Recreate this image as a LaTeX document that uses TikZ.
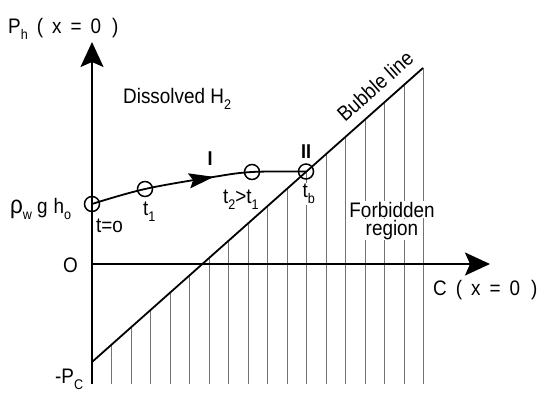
\documentclass[tikz,border=0pt]{standalone}
\usepackage{fontspec}
\setmainfont{Liberation Sans}[FakeStretch=0.9]
\usetikzlibrary{arrows.meta,decorations.markings}
\newcommand{\lsub}[1]{\raisebox{-0.33em}{\fontsize{14}{14}\selectfont #1}}
\newcommand{\gp}{\hspace{9pt}}
\begin{document}
\begin{tikzpicture}[x=1pt,y=-1pt,
  font=\fontsize{21}{24}\selectfont,
  lbl/.style={inner sep=0pt},
  axis/.style={line width=1.9pt, -{Stealth[length=25pt,width=23pt,inset=5pt]}},
  mainline/.style={line width=1.8pt},
  hatchline/.style={line width=0.5pt, black!55},
  pt/.style={draw, circle, minimum size=15pt, inner sep=0pt, line width=1.5pt}]
\useasboundingbox (0,0) rectangle (541,392);
% hatching
\foreach \k in {1,...,17} {
  \pgfmathsetmacro\xx{92+19.5*\k}
  \pgfmathsetmacro\yy{362-19.5*\k*0.8882}
  \draw[hatchline] (\xx,\yy) -- (\xx,384);
}
% labels with white background
\node[lbl, fill=white, anchor=base, inner sep=1pt] (forb) at (392,217) {Forbidden};
\node[lbl, fill=white, anchor=base, inner sep=1pt] (reg) at (392,235) {region};
\node[lbl, fill=white, anchor=base west, inner sep=0.5pt] (tb) at (302,197) {t\lsub{b}};
% axes
\coordinate (ybot) at (92,384);
\coordinate (ytop) at (92,42);
\coordinate (xorg) at (92,264);
\coordinate (xend) at (490,264);
\draw[axis] (ybot) -- (ytop);
\draw[axis] (xorg) -- (xend);
% bubble line
\coordinate (pc) at (92,362);
\coordinate (bt) at (423,68);
\draw[mainline] (pc) -- (bt);
% points
\node[pt] (c0) at (92,204) {};
\node[pt] (c1) at (145,189) {};
\coordinate (ar) at (213,177);
\node[pt] (c2) at (252,172) {};
\node[pt] (cb) at (306,171.5) {};
\draw[mainline, postaction={decorate}, decoration={markings,
   mark=at position 0.575 with {\arrow{Stealth[length=25pt,width=15pt,inset=4pt]}}}]
  plot[smooth, tension=0.6] coordinates {(c0.center) (c1.center) (ar) (c2.center) (cb.center)};
% text
\node[lbl, anchor=base west] (ph) at (8,33) {P\lsub{h}\gp(\gp x\gp=\gp 0\hspace{11pt})};
\node[lbl, anchor=base west] (diss) at (123,103) {Dissolved H\lsub{2}};
\node[lbl, anchor=base west] (rho) at (10,213) {{\fontsize{25}{25}\selectfont ρ}\lsub{w}\hspace{5pt}g\hspace{6pt}h\lsub{o}};
\node[lbl, anchor=base west] (t0) at (96,232) {t=o};
\node[lbl, anchor=base west] (t1) at (143,215) {t\lsub{1}};
\node[lbl, anchor=base west] (t2) at (223,203) {t\lsub{2}>t\lsub{1}};
\node[lbl, anchor=base, font=\fontsize{20}{22}\selectfont\bfseries] (rI) at (210,165) {I};
\node[lbl, anchor=base, font=\fontsize{20}{22}\selectfont\bfseries] (rII) at (306,158) {II};
\node[lbl, anchor=base west] (O) at (63,272) {O};
\node[lbl, anchor=base west] (mpc) at (55,383) {-P\lsub{C}};
\node[lbl, anchor=base west] (cx) at (433,295) {C\gp(\gp x\gp=\gp 0\hspace{11pt})};
\node[lbl, rotate=41.6] (bub) at (375,86) {Bubble line};
\end{tikzpicture}
\end{document}
